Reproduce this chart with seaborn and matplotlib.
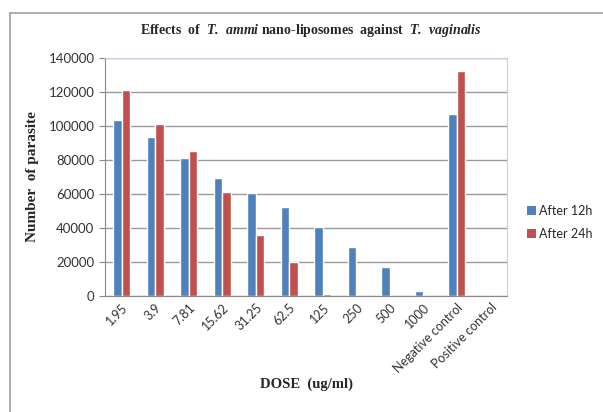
import numpy as np
import pandas as pd
import seaborn as sns
import matplotlib.pyplot as plt
from matplotlib.lines import Line2D
from matplotlib.patches import Patch

# data
doses = ['1.95', '3.9', '7.81', '15.62', '31.25', '62.5', '125', '250', '500', '1000',
         'Negative control', 'Positive control']
after_12h = [103600, 93400, 81200, 69600, 60800, 52300, 40700, 28500, 17100, 3000, 106800, 0]
after_24h = [121000, 101100, 85200, 61200, 35600, 20100, 1000, 0, 0, 0, 132400, 0]
series_names = ['After 12h', 'After 24h']
colors = ['#4F81BD', '#C0504D']
y_ticks = [0, 20000, 40000, 60000, 80000, 100000, 120000, 140000]

df = pd.DataFrame({
    'dose': doses * 2,
    'value': after_12h + after_24h,
    'series': [series_names[0]] * len(doses) + [series_names[1]] * len(doses),
})

sns.set_style('white')
plt.rcParams['font.family'] = ['Lato', 'DejaVu Sans']
plt.rcParams['mathtext.fontset'] = 'custom'
plt.rcParams['mathtext.bfit'] = 'Liberation Serif:italic:bold'
plt.rcParams['mathtext.rm'] = 'Liberation Serif:bold'

fig = plt.figure(figsize=(6.03, 4.12), dpi=100)
ax = fig.add_axes([0.174, 0.282, 0.667, 0.577])

sns.barplot(data=df, x='dose', y='value', hue='series', palette=colors,
            width=0.5, gap=0, saturation=1, ax=ax, legend=False)

ax.set_ylim(0, 140000)
ax.set_yticks(y_ticks)
ax.set_yticklabels([str(t) for t in y_ticks], fontsize=9.5, color='#333333')
ax.set_xlim(-0.5, len(doses) - 0.5)
ax.set_xticks(range(len(doses)))
ax.set_xticklabels(doses, rotation=45, ha='right', rotation_mode='anchor',
                   fontsize=9, color='#333333')
ax.grid(axis='y', color='#9a9a9a', linewidth=1)
ax.set_axisbelow(True)
ax.tick_params(axis='y', length=4, color='#888888', direction='out', left=True)
ax.tick_params(axis='x', length=0, pad=4)
for side in ['top', 'right']:
    ax.spines[side].set_color('#c8d0dc')
ax.spines['left'].set_color('#888888')
ax.spines['bottom'].set_color('#888888')

serif = 'Liberation Serif'
ax.set_xlabel('DOSE  (ug/ml)', family=serif, fontweight='bold', fontsize=10.5)
ax.xaxis.set_label_coords(0.5, -0.345)
ax.set_ylabel('Number  of parasite', family=serif, fontweight='bold', fontsize=11)
ax.yaxis.set_label_coords(-0.165, 0.5)

fig.text(0.515, 0.927,
         r'Effects  of  $\mathbfit{T.\ ammi}$ nano-liposomes  against  $\mathbfit{T.\ vaginalis}$',
         ha='center', va='center', family=serif, fontweight='bold', fontsize=10)

handles = [Patch(facecolor=c, edgecolor='none') for c in colors]
fig.legend(handles, series_names, loc='center left', bbox_to_anchor=(0.855, 0.46),
           frameon=False, fontsize=9, handlelength=0.7, handleheight=0.7,
           handletextpad=0.3, labelspacing=0.9)

# outer chart border (top and left edges visible in the reference)
fig.add_artist(Line2D([0.017, 1.0], [0.968, 0.968], transform=fig.transFigure,
                      color='#a0a0a0', linewidth=1.2))
fig.add_artist(Line2D([0.017, 0.017], [0.0, 0.968], transform=fig.transFigure,
                      color='#a0a0a0', linewidth=1.2))

fig.savefig('out.png', dpi=100)
